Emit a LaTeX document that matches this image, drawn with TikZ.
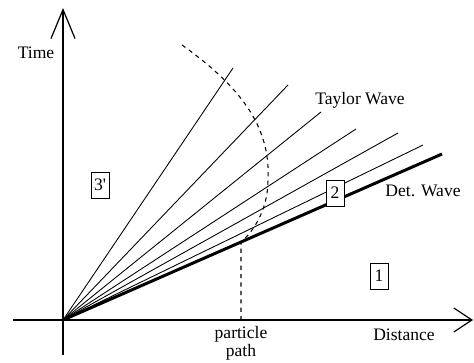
\documentclass[tikz,border=0pt]{standalone}
\usepackage{fontspec}
\setmainfont{Liberation Serif}[Ligatures=TeXOff]
\usetikzlibrary{arrows.meta}

\tikzset{
  axis/.style={line width=0.7pt},
  fanline/.style={line width=0.5pt},
  detline/.style={line width=1.7pt},
  pathline/.style={line width=0.6pt,dash pattern=on 2.4pt off 2.4pt},
  region/.style={draw,line width=0.5pt,fill=white,inner sep=0pt,minimum width=10.3pt,minimum height=14.8pt},
}

\begin{document}
\begin{tikzpicture}[x=0.57pt,y=0.57pt,font=\fontsize{10}{10.5}\selectfont]
\useasboundingbox (-63,-42) rectangle (411,320);
% axes
\coordinate (O) at (0,0);
\coordinate (tbot) at (0,-35);
\coordinate (ttop) at (0,312);
\coordinate (dleft) at (-50,0);
\coordinate (dright) at (410,0);
\draw[axis,-{Straight Barb[length=16.5pt,width=13.7pt]}] (tbot) -- (ttop);
\draw[axis,-{Straight Barb[length=10.3pt,width=13.7pt]}] (dleft) -- (dright);
\node (time) at (-27,267) {Time};
\node (dist) at (341,-15) {Distance};

% Taylor wave fan
\foreach \n/\x/\y in {1/170/252,2/225/235,3/258/208,4/293/191,5/335/187,6/360/175} {
  \coordinate (f\n) at (\x,\y);
  \draw[fanline] (O) -- (f\n);
}
% detonation front
\coordinate (det) at (379,166);
\draw[detline] (O) -- (det);

% particle path
\coordinate (pstart) at (119,275);
\coordinate (pturn) at (205,140);
\coordinate (phit) at (178,78);
\coordinate (pend) at (178,0);
\draw[pathline] (pstart) .. controls (175,235) and (208,195) .. (pturn)
  .. controls (205,110) and (190,88) .. (phit) -- (pend);
\node[align=center] (ppath) at (178,-23) {particle\\path};

% labels
\node (taylor) at (297,220) {Taylor Wave};
\node (detlabel) at (360,129) {Det. Wave};
\node[region] (r3) at (37,135) {3'};
\node[region] (r2) at (272,127) {2};
\node[region] (r1) at (316,44) {1};
\end{tikzpicture}
\end{document}
